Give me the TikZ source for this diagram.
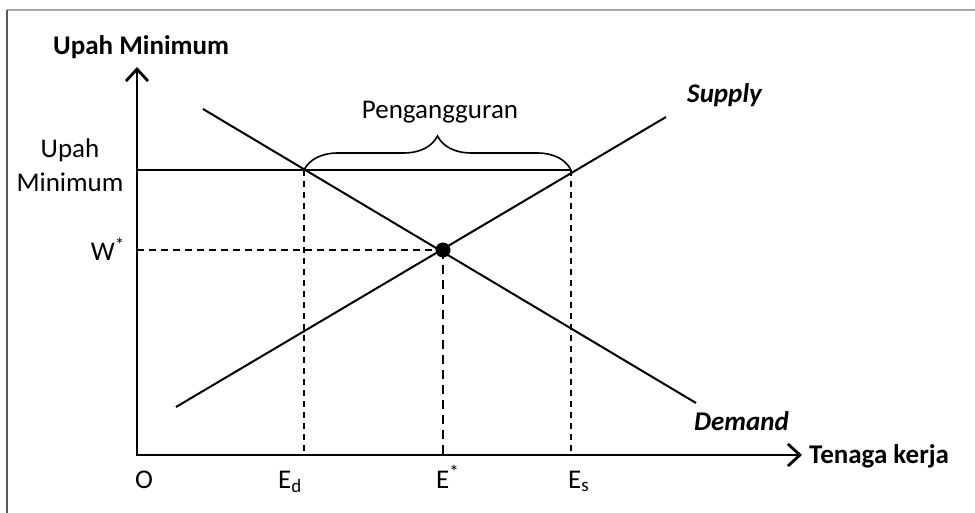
\documentclass[tikz,border=0pt]{standalone}
\usepackage{fontspec}
\setmainfont{Carlito}
\usepackage{xcolor}
\usepackage{tikz}
\usetikzlibrary{arrows.meta,decorations.pathreplacing}

\begin{document}
\fontsize{27}{33}\selectfont
\begin{tikzpicture}
	[x=1pt, y=-1pt, >={Straight Barb[length=12pt,width=22pt]},
	 every node/.style={inner sep=0pt},
	 curve/.style={line width=2pt},
	 guide/.style={line width=1.4pt, dash pattern=on 6pt off 5pt}]

	\useasboundingbox (0,0) rectangle (975,513);

	% frame
	\draw[gray!70, line width=1.3pt] (7,10) -- (975,10);
	\draw[black!65, line width=1.3pt] (7,10) -- (7,513);

	% points
	\coordinate (o) at (137,455);
	\coordinate (ytop) at (137,67);
	\coordinate (xend) at (802,455);
	\coordinate (wmin) at (137,170);
	\coordinate (ed) at (304,170);
	\coordinate (es) at (571,170);
	\coordinate (ws) at (137,250);
	\coordinate (e) at (443,250);
	\coordinate (d1) at (203,109);
	\coordinate (d2) at (696,403);
	\coordinate (s1) at (176,407);
	\coordinate (s2) at (666,117);

	% axis
	\draw[line width=2.8pt,<->] (ytop) -- (o) -- (xend);
	\node[anchor=base west, font=\bfseries] (ytitle) at (53,55) {Upah Minimum};
	\node[anchor=base west, font=\bfseries] (xtitle) at (809,463) {Tenaga kerja};

	% dashed
	\draw[guide] (ed) -- (ed |- o);
	\draw[guide] (es) -- (es |- o);
	\draw[guide, dash pattern=on 7pt off 5pt] (ws) -- (e);
	\draw[guide, line width=2.5pt, dash pattern=on 9pt off 6pt] (e) -- (e |- o);

	% minimum wage
	\draw[curve] (wmin) -- (es);
	\draw[decorate, decoration={brace, amplitude=34pt}, line width=1.6pt] (ed) -- (es);
	\node[anchor=base] (gap) at (440,119) {Pengangguran};

	% demand and supply
	\draw[curve] (d1) -- (d2);
	\draw[curve] (s1) -- (s2);
	\fill (e) circle (7.5pt);
	\node[anchor=base west, font=\bfseries\itshape] (slab) at (687,103) {Supply};
	\node[anchor=base west, font=\bfseries\itshape] (dlab) at (694,430) {Demand};

	% labels
	\node[anchor=base] (wlab) at (70,158) {Upah};
	\node[anchor=base] (wlabb) at (70,192) {Minimum};
	\node[anchor=base east] (wstar) at (125,261) {W\textsuperscript{*}};
	\node[anchor=base] (olab) at (144,488) {O};
	\node[anchor=base west] (edlab) at (278,488) {E\textsubscript{d}};
	\node[anchor=base west] (estar) at (436,488) {E\textsuperscript{*}};
	\node[anchor=base west] (eslab) at (568,488) {E\textsubscript{s}};

	\end{tikzpicture}
\end{document}
